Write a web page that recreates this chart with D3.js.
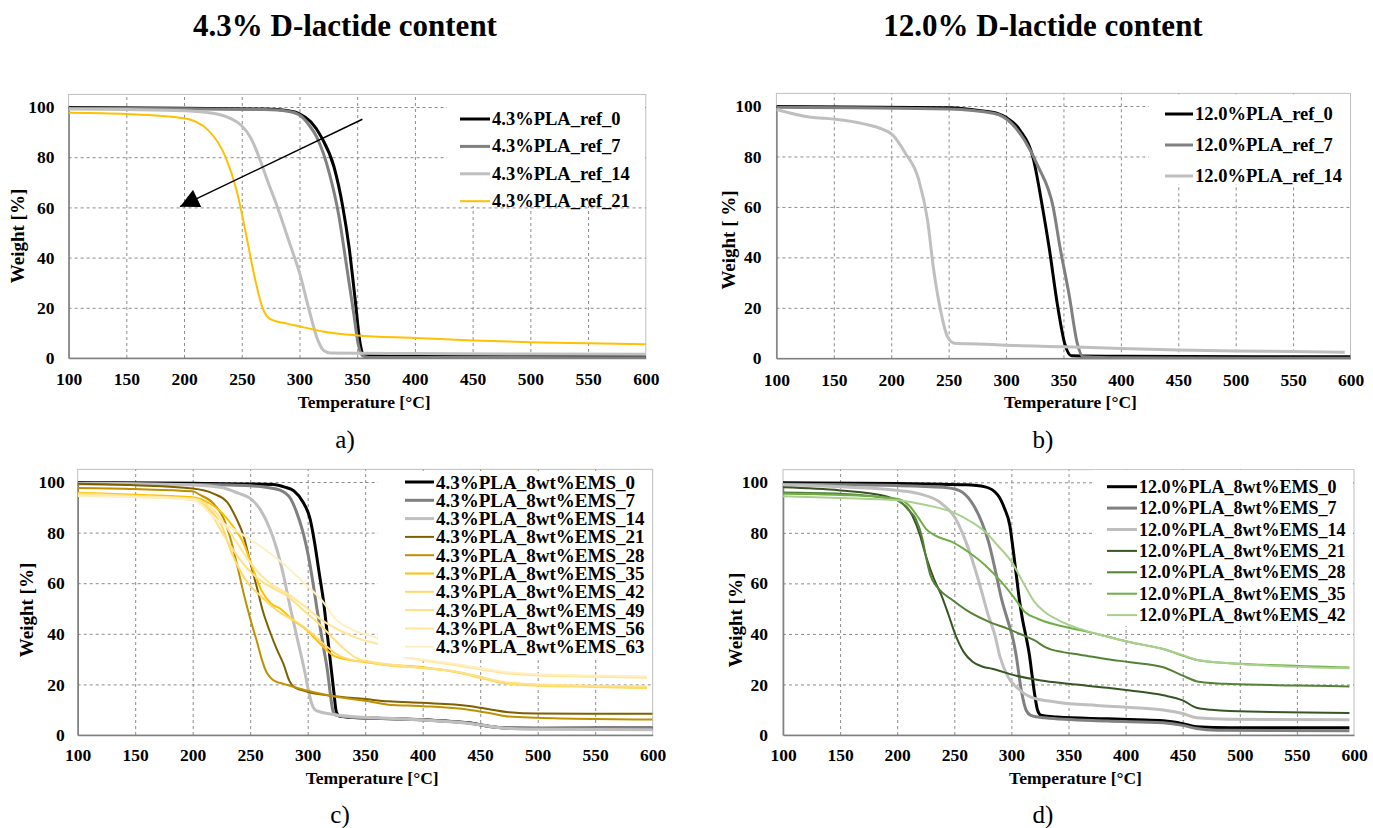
<!DOCTYPE html>
<html>
<head>
<meta charset="utf-8">
<script src="https://cdn.jsdelivr.net/npm/d3@7"></script>
<style>
  body { margin: 0; background: #fff; }
  svg { display: block; }
</style>
</head>
<body>
<script>
// ---- data: [temperature °C, weight %] ----
const xTicks = [100, 150, 200, 250, 300, 350, 400, 450, 500, 550, 600];
const yTicks = [0, 20, 40, 60, 80, 100];

// a) 4.3% D-lactide, reference
const a_names = ['4.3%PLA_ref_0', '4.3%PLA_ref_7', '4.3%PLA_ref_14', '4.3%PLA_ref_21'];
const a_ref0 = [[100,99.8],[200,99.5],[270,99.2],[290,98.5],[300,97.3],[310,94],[319,88],[330,76],[337.6,60],[343,44],[348,24.3],[352.6,5.7],[356,1.2],[400,1],[500,0.9],[595,0.8],[600,0.4]];
const a_ref7 = [[100,99.5],[200,99.3],[270,99],[290,98.3],[300,96.8],[308,93],[315,88],[326,73.4],[333.8,57.5],[341,36],[347,17.7],[350.8,5.7],[354.5,1],[360,0.2],[400,0.2],[600,0.1]];
const a_ref14 = [[100,99.2],[150,99],[200,98.5],[225,97.5],[240,95.5],[250,92.5],[258,87.5],[265,80],[272,71],[281,60],[292,45],[300,34],[309,18],[316,7],[321,3],[327,2],[350,1.9],[400,1.8],[500,1.6],[600,1.5]];
const a_ref21 = [[100,97.7],[150,97.2],[200,95.5],[221,90.7],[236,80],[245.5,66.8],[253,51],[260.5,33.6],[268,20],[274,15.7],[290,13.6],[300,12.6],[320,10.6],[350,9],[400,8],[450,7],[500,6.3],[550,5.9],[600,5.5]];
const a_arrow = [[354.5, 95.1], [196.5, 60.3]];

// b) 12.0% D-lactide, reference
const b_names = ['12.0%PLA_ref_0', '12.0%PLA_ref_7', '12.0%PLA_ref_14'];
const b_ref0 = [[100,99.8],[250,99.3],[280,98],[293,97],[300,95.5],[312,90.5],[324,78.6],[331.7,60],[337.5,44],[345,20.5],[351,6],[357,1],[400,0.8],[600,0.6]];
const b_ref7 = [[100,99.5],[250,98.8],[290,97],[305,93],[316,86.5],[328,76],[341,60],[347,44],[355,25],[362,6],[367,0.6],[400,0.2],[600,0]];
const b_ref14 = [[100,98.6],[130,95.5],[150,94.8],[175,93],[200,89],[212,81.5],[224,70.7],[231.6,54.8],[237,35],[243,19],[249,8.6],[255,6],[275,5.7],[300,5.2],[350,4.6],[400,3.9],[450,3.3],[500,2.9],[550,2.7],[595,2.4]];

// c) 4.3% D-lactide + 8 wt% EMS
const c_names = ['4.3%PLA_8wt%EMS_0', '4.3%PLA_8wt%EMS_7', '4.3%PLA_8wt%EMS_14', '4.3%PLA_8wt%EMS_21', '4.3%PLA_8wt%EMS_28',
  '4.3%PLA_8wt%EMS_35', '4.3%PLA_8wt%EMS_42', '4.3%PLA_8wt%EMS_49', '4.3%PLA_8wt%EMS_56', '4.3%PLA_8wt%EMS_63'];
const c_ems0 = [[100,99.8],[200,99.5],[270,99],[280,98],[288,96.5],[296,92],[302,85.5],[306,76],[310,64],[314,52],[317,40],[320,28],[322.5,18],[325,9],[328,7.4],[340,6.9],[360,6.6],[400,6],[420,5.5],[440,4.8],[460,3.3],[475,2.8],[500,2.7],[600,2.8]];
const c_ems7 = [[100,99.3],[200,99],[250,98.5],[265,97.8],[276,96.8],[285,93.5],[290,88.5],[296,80],[300.5,71],[305,59],[308,50],[311,42],[314,34],[317,26],[320,15],[322,9.5],[325,7.8],[340,7],[360,6.6],[400,6],[420,5.5],[440,4.7],[460,3.3],[475,2.7],[500,2.6],[600,2.7]];
const c_ems14 = [[100,99.5],[150,99.3],[200,98.8],[225,97.8],[240,95.5],[250,93.5],[259,89],[267,81.6],[273,73.7],[279,63],[285,50],[289,42],[293,34],[297,26],[300.5,18],[303.5,12.4],[308,9.5],[320,8.3],[340,7.2],[370,6.6],[400,5.9],[430,5],[450,4],[465,3],[480,2.5],[500,2.3],[600,2.1]];
const c_ems21 = [[100,99.3],[150,98.7],[200,97.4],[218,95.4],[230,92],[238,85.5],[244,79],[250,68.4],[256,58],[261,49],[267,41],[273,34],[279,28],[284,21.5],[288,19],[299,17.2],[320,15.5],[350,14.2],[370,13.3],[400,12.7],[440,11.5],[460,10],[475,9],[500,8.5],[600,8.4]];
const c_ems28 = [[100,97.6],[150,97.2],[200,96.3],[206,95],[218,91.5],[227,85.5],[232,79],[238,68.4],[244,56.5],[250,46],[256,36.7],[260,30],[264,25],[268,22.5],[273,21],[279,20.2],[288,19],[299,17.6],[320,15.5],[350,13.5],[370,12],[400,11.4],[440,10],[460,8.5],[475,7.3],[500,6.8],[550,6.3],[600,6.1]];
const c_ems35 = [[100,95.8],[150,95],[200,94],[215,91.5],[225,88],[235,82.5],[245,75],[252,66],[260,57],[268,52],[276,50],[287,45.5],[299,41.5],[311,36],[322,31.5],[335,29.8],[350,28.8],[370,27.8],[400,26.8],[430,24.8],[450,22.8],[470,20.8],[500,19.8],[550,19.2],[595,18.8]];
const c_ems42 = [[100,95.5],[150,94.5],[200,93],[215,89],[225,83],[233,73],[240,66],[248,60],[259,55],[274,49],[289,45],[304,40],[315,35.5],[327,31.5],[340,29.5],[350,29],[370,27.5],[400,26.5],[430,24.8],[450,22.5],[470,20.5],[500,19.5],[550,19],[595,18.5]];
const c_ems49 = [[100,95],[150,94.2],[200,93],[215,88],[227,79],[237,72],[248,65.5],[259,61],[270,58],[282,55],[297,49],[312,43],[327,36],[342,30.5],[355,29],[370,28],[400,26.5],[430,25],[450,23],[470,21],[500,20],[550,19.5],[595,19.2]];
const c_ems56 = [[100,95.2],[150,94.5],[200,93.5],[220,88],[237,77],[252,67],[267,60],[282,56],[297,51],[312,45.5],[327,41.5],[345,38],[363,35.6],[380,31.5],[400,29.5],[430,27.5],[450,26],[470,24.5],[500,23.5],[550,23],[595,22.6]];
const c_ems63 = [[100,94.5],[150,94],[200,93],[221,85],[237,81],[259,74.5],[278,68],[297,60],[312,53.4],[325,45.5],[339,41.6],[363,37.6],[380,31.5],[400,29.8],[430,28],[450,26.5],[470,25],[500,24],[550,23.5],[595,23.2]];

// d) 12.0% D-lactide + 8 wt% EMS
const d_names = ['12.0%PLA_8wt%EMS_0', '12.0%PLA_8wt%EMS_7', '12.0%PLA_8wt%EMS_14', '12.0%PLA_8wt%EMS_21',
  '12.0%PLA_8wt%EMS_28', '12.0%PLA_8wt%EMS_35', '12.0%PLA_8wt%EMS_42'];
const d_ems0 = [[100,99.8],[200,99.5],[260,99],[277,98.2],[288,95],[294,89.6],[298.6,83],[301.4,73.8],[304.3,63.3],[307.2,52.8],[310,45],[313,38.5],[316,31],[318,24],[320.3,16.3],[323,9.7],[326,7.8],[340,7.1],[384,6.4],[410,6],[433,5.6],[450,4.5],[462,3.3],[491,2.9],[596,2.9]];
const d_ems7 = [[100,99.2],[200,98.7],[240,98],[254,96.8],[265,92.2],[274,84.3],[280,76.4],[285.5,66],[291.3,54],[297,45],[301.4,38],[304,32],[308.7,17.6],[313,9.7],[317,7.8],[329,6.8],[384,5.5],[433,4.8],[450,3.8],[462,2.6],[480,1.9],[596,1.7]];
const d_ems14 = [[100,99],[150,98.2],[200,96.8],[219,95.5],[239,91.6],[251,85.7],[259,77.8],[268,66],[274,56.7],[280,47],[285.5,39.6],[290,31],[297,23],[306,18.3],[317,15],[340,13],[375,11.7],[404,10.9],[433,9.9],[450,8.5],[462,6.8],[491,6.2],[596,6]];
const d_ems21 = [[100,98],[150,96.8],[190,94.5],[200,92.9],[213,87],[220,79],[225,71],[232,62],[239,55],[245,47.5],[251,39.6],[258,33],[266,29],[275,27],[283,26.2],[303,23.6],[326,21.6],[350,20.3],[384,18.7],[404,17.6],[433,15.7],[450,13.7],[462,10.8],[475,10],[491,9.5],[596,8.7]];
const d_ems28 = [[100,96],[150,95.5],[200,93],[210,89],[216,85.7],[222,77.8],[225,71],[229,63.3],[236,58],[248,53.5],[262,49],[282,44.5],[297,42],[310,39.5],[320,37.5],[330,34.7],[345,32.8],[360,31.8],[384,30],[404,28.8],[433,26.8],[450,23.5],[462,21.3],[475,20.6],[491,20.2],[550,19.6],[596,19.2]];
const d_ems35 = [[100,95.5],[150,95],[200,93.5],[210,91],[219,85.7],[225,81.7],[233,79],[248,76.4],[262,72.5],[277,67.2],[291,60.7],[303,54],[311.6,48.8],[323,46],[340,43.5],[360,41.5],[375,40],[404,36.7],[433,34],[450,31.4],[462,29.7],[491,28.4],[520,27.8],[596,26.7]];
const d_ems42 = [[100,94.5],[150,93.8],[200,92.9],[225,91],[248,88.3],[265,84.3],[277,80.4],[288,75],[300,68.6],[311.6,59.3],[320,52.8],[329,48.8],[341,45.5],[360,42],[375,40],[404,36.7],[433,34],[450,31.6],[462,29.8],[491,28.4],[520,27.6],[596,26.4]];

// ---- styles ----
const FONT = "'Liberation Serif', 'Times New Roman', serif";
const grayC = ['#000000', '#808080', '#bfbfbf'];
const goldC = ['#7f6000', '#bf9000', '#ffc000', '#ffd966', '#ffe185', '#ffe699', '#fff0c4'];
const greenC = ['#375623', '#548235', '#70ad47', '#a9d08e'];

const svg = d3.select('body').append('svg')
  .attr('width', 1373)
  .attr('height', 828)
  .style('font-family', FONT);

const defs = svg.append('defs');
defs.append('marker')
  .attr('id', 'tri')
  .attr('viewBox', '0 0 10 10')
  .attr('refX', 10).attr('refY', 5)
  .attr('markerWidth', 20).attr('markerHeight', 19)
  .attr('markerUnits', 'userSpaceOnUse')
  .attr('orient', 'auto')
  .append('path')
    .attr('d', 'M0,0 L10,5 L0,10 z')
    .attr('fill', '#000');

function drawPanel(p, idx) {
  let x = d3.scaleLinear().domain([100, 600]).range([p.x0, p.x1]);
  let y = d3.scaleLinear().domain([0, 100]).range([p.y0, p.y100]);
  let top = y(105);
  let g = svg.append('g');

  defs.append('clipPath').attr('id', 'clip' + idx)
    .append('rect')
      .attr('x', p.x0).attr('y', top)
      .attr('width', p.x1 - p.x0).attr('height', p.y0 - top);

  // frame
  g.append('rect')
    .attr('x', p.x0).attr('y', top)
    .attr('width', p.x1 - p.x0).attr('height', p.y0 - top)
    .attr('fill', 'none')
    .attr('stroke', '#bfbfbf')
    .attr('stroke-width', 1);

  // grid
  g.append('g')
    .attr('transform', 'translate(0,' + p.y0 + ')')
    .call(d3.axisBottom(x).tickValues(xTicks.slice(1, -1)).tickSize(-(p.y0 - top)).tickFormat(''))
    .call(s => s.select('.domain').remove())
    .selectAll('line')
      .attr('stroke', '#8c8c8c')
      .attr('stroke-dasharray', '3,3');
  g.append('g')
    .attr('transform', 'translate(' + p.x0 + ',0)')
    .call(d3.axisLeft(y).tickValues(yTicks.slice(1)).tickSize(-(p.x1 - p.x0)).tickFormat(''))
    .call(s => s.select('.domain').remove())
    .selectAll('line')
      .attr('stroke', '#8c8c8c')
      .attr('stroke-dasharray', '3,3');

  // axes
  let xa = g.append('g')
    .attr('transform', 'translate(0,' + p.y0 + ')')
    .call(d3.axisBottom(x).tickValues(xTicks).tickSize(0).tickPadding(p.xpad));
  let ya = g.append('g')
    .attr('transform', 'translate(' + p.x0 + ',0)')
    .call(d3.axisLeft(y).tickValues(yTicks).tickSize(0).tickPadding(p.ypad));
  [xa, ya].forEach(a => {
    a.attr('font-family', FONT).attr('font-size', 17.5);
    a.select('.domain').attr('stroke', '#808080').attr('stroke-width', 1.6);
    a.selectAll('text')
      .attr('font-weight', 'bold')
      .attr('fill', '#000');
  });

  g.append('text')
    .attr('x', (p.x0 + p.x1) / 2 + 7)
    .attr('y', p.xtitleY)
    .attr('text-anchor', 'middle')
    .attr('font-weight', 'bold')
    .attr('font-size', 17.5)
    .text('Temperature [°C]');
  g.append('text')
    .attr('transform', 'translate(' + p.ytitleX + ',' + p.ytitleY + ') rotate(-90)')
    .attr('text-anchor', 'middle')
    .attr('dominant-baseline', 'central')
    .attr('font-weight', 'bold')
    .attr('font-size', 19)
    .text(p.ytitle);

  // curves
  let line = d3.line()
    .x(d => x(d[0]))
    .y(d => y(d[1]))
    .curve(d3.curveMonotoneX);
  let lg = g.append('g').attr('clip-path', 'url(#clip' + idx + ')');
  p.series.forEach((s, i) => {
    lg.append('path')
      .datum(s)
      .attr('fill', 'none')
      .attr('stroke', p.colors[i])
      .attr('stroke-width', p.widths[i])
      .attr('stroke-linejoin', 'round')
      .attr('d', line);
  });

  // legend
  let L = p.legend;
  g.append('rect')
    .attr('x', L.box[0]).attr('y', L.box[1])
    .attr('width', L.box[2] - L.box[0]).attr('height', L.box[3] - L.box[1])
    .attr('fill', '#fff');
  p.names.forEach((n, i) => {
    let ry = L.y + i * L.dy;
    g.append('line')
      .attr('x1', L.lx0).attr('x2', L.lx1)
      .attr('y1', ry).attr('y2', ry)
      .attr('stroke', p.colors[i])
      .attr('stroke-width', p.widths[i]);
    g.append('text')
      .attr('x', L.lx1 + 2)
      .attr('y', ry)
      .attr('dominant-baseline', 'central')
      .attr('font-weight', 'bold')
      .attr('font-size', L.fs)
      .text(n);
  });

  if (p.arrow) {
    g.append('line')
      .attr('x1', x(p.arrow[0][0])).attr('y1', y(p.arrow[0][1]))
      .attr('x2', x(p.arrow[1][0])).attr('y2', y(p.arrow[1][1]))
      .attr('stroke', '#000')
      .attr('stroke-width', 1.5)
      .attr('marker-end', 'url(#tri)');
  }

  g.append('text')
    .attr('x', p.sub[0]).attr('y', p.sub[1])
    .attr('text-anchor', 'middle')
    .attr('font-size', 25)
    .text(p.subLabel);
}

const panels = [
  { x0: 68.6, x1: 645.8, y0: 358, y100: 107, xpad: 15, ypad: 14, xtitleY: 408, ytitleX: 17, ytitleY: 236,
    ytitle: 'Weight [%]', names: a_names, series: [a_ref0, a_ref7, a_ref14, a_ref21],
    colors: [grayC[0], grayC[1], grayC[2], goldC[2]], widths: [3, 3, 3, 2],
    legend: { box: [447, 96, 645, 206], y: 119, dy: 27.4, lx0: 460, lx1: 490, fs: 18.5 },
    arrow: a_arrow, sub: [345, 448], subLabel: 'a)' },
  { x0: 776.4, x1: 1350.5, y0: 358.3, y100: 106, xpad: 15, ypad: 15, xtitleY: 408, ytitleX: 728.6, ytitleY: 240,
    ytitle: 'Weight [ %]', names: b_names, series: [b_ref0, b_ref7, b_ref14],
    colors: [grayC[0], grayC[1], grayC[2]], widths: [3, 3, 3],
    legend: { box: [1149, 95, 1350, 184], y: 114, dy: 31, lx0: 1165, lx1: 1193, fs: 18.5 },
    sub: [1043, 448], subLabel: 'b)' },
  { x0: 77.7, x1: 652.7, y0: 735, y100: 482, xpad: 14, ypad: 13, xtitleY: 784, ytitleX: 26, ytitleY: 610,
    ytitle: 'Weight [%]', names: c_names,
    series: [c_ems0, c_ems7, c_ems14, c_ems21, c_ems28, c_ems35, c_ems42, c_ems49, c_ems56, c_ems63],
    colors: grayC.concat(goldC), widths: [3, 3, 3, 2, 2, 2, 2, 2, 2, 2],
    legend: { box: [378, 471, 652, 657], y: 482, dy: 18.3, lx0: 405, lx1: 434, fs: 19 },
    sub: [340, 823], subLabel: 'c)' },
  { x0: 783, x1: 1354, y0: 735, y100: 482.3, xpad: 14, ypad: 15, xtitleY: 784, ytitleX: 735, ytitleY: 620,
    ytitle: 'Weight [%]', names: d_names,
    series: [d_ems0, d_ems7, d_ems14, d_ems21, d_ems28, d_ems35, d_ems42],
    colors: grayC.concat(greenC), widths: [3, 3, 3, 2, 2, 2, 2],
    legend: { box: [1093, 470, 1353, 626], y: 486.7, dy: 21.4, lx0: 1107, lx1: 1137, fs: 18 },
    sub: [1043, 823], subLabel: 'd)' },
];
panels.forEach(drawPanel);

// column titles
[['4.3% D-lactide content', 345], ['12.0% D-lactide content', 1043]].forEach(t => {
  svg.append('text')
    .attr('x', t[1]).attr('y', 36)
    .attr('text-anchor', 'middle')
    .attr('font-weight', 'bold')
    .attr('font-size', 31)
    .text(t[0]);
});
</script>
</body>
</html>
